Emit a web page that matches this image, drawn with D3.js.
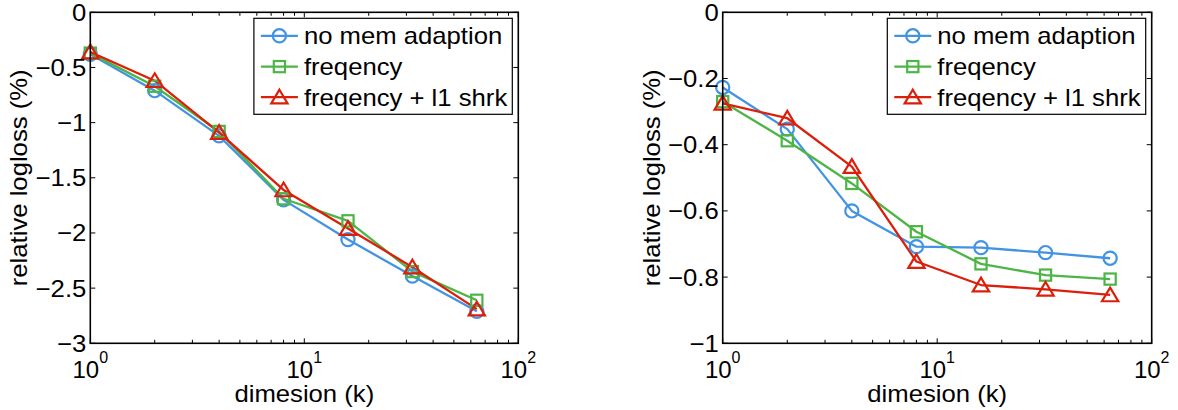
<!DOCTYPE html>
<html>
<head>
<meta charset="utf-8">
<script src="https://cdn.jsdelivr.net/npm/d3@7"></script>
<style>
  html, body { margin: 0; padding: 0; background: #fff; }
  svg { display: block; font-family: "Liberation Sans", Arial, Helvetica, sans-serif; }
</style>
</head>
<body>
<svg id="chart" width="1178" height="410"></svg>
<script>
// Dimensions k on the x axis
const dims = [1, 2, 4, 8, 16, 32, 64];

// Series names shown in the legends
const seriesNames = ["no mem adaption", "freqency", "freqency + l1 shrk"];

// Left panel: relative logloss (%)
const leftNoMem = [-0.38, -0.71, -1.12, -1.70, -2.06, -2.39, -2.71];
const leftFreq  = [-0.37, -0.67, -1.08, -1.69, -1.89, -2.35, -2.61];
const leftShrk  = [-0.36, -0.62, -1.09, -1.61, -1.96, -2.31, -2.69];

// Right panel: relative logloss (%)
const rightNoMem = [-0.227, -0.353, -0.600, -0.708, -0.711, -0.726, -0.743];
const rightFreq  = [-0.270, -0.388, -0.517, -0.663, -0.760, -0.794, -0.806];
const rightShrk  = [-0.275, -0.320, -0.466, -0.753, -0.824, -0.837, -0.854];

// Tick values
const xTicks = [1, 10, 100];
const leftYTicks = [0, -0.5, -1, -1.5, -2, -2.5, -3];
const rightYTicks = [0, -0.2, -0.4, -0.6, -0.8, -1];

const xLabel = "dimesion (k)";
const yLabel = "relative logloss (%)";

const colors = ["#4294e3", "#4cb546", "#dc1f0a"];
const markers = ["circle", "square", "triangle"];

const svg = d3.select("#chart");
const FONT = 24;
const STRETCH = 1.07;   // slightly wide lettering for labels

function fmtY(v) {
  if (v === 0) return "0";
  return "\u2212" + String(Math.abs(v));
}

// text placed at (x, y) with an optional rotation and horizontal stretch
function label(g, x, y, str, anchor, rot, stretch) {
  const t = g.append("text")
    .attr("transform", `translate(${x},${y}) rotate(${rot || 0}) scale(${stretch || 1},1)`)
    .attr("text-anchor", anchor).attr("font-size", FONT).attr("fill", "#000").text(str);
  return t;
}

function drawMarker(g, type, x, y, color) {
  if (type === "circle") {
    g.append("circle").attr("cx", x).attr("cy", y).attr("r", 6.6)
      .attr("fill", "none").attr("stroke", color).attr("stroke-width", 2.2);
  } else if (type === "square") {
    g.append("rect").attr("x", x - 5.6).attr("y", y - 5.6)
      .attr("width", 11.2).attr("height", 11.2)
      .attr("fill", "none").attr("stroke", color).attr("stroke-width", 2.2);
  } else {
    const h = 7.4;
    g.append("path")
      .attr("d", `M${x},${y - h}L${x + h * 1.1},${y + h * 0.85}L${x - h * 1.1},${y + h * 0.85}Z`)
      .attr("fill", "none").attr("stroke", color).attr("stroke-width", 2.2)
      .attr("stroke-linejoin", "miter");
  }
}

function panel(opts) {
  const { left, right, top, bottom, yDomain, yTicks, series } = opts;
  const g = svg.append("g");

  const x = d3.scaleLog().domain([1, 100]).range([left, right]);
  const y = d3.scaleLinear().domain(yDomain).range([bottom, top]);

  // data lines and markers
  const line = d3.line().x((d, i) => x(dims[i])).y(d => y(d));
  series.forEach((vals, si) => {
    g.append("path").datum(vals).attr("d", line)
      .attr("fill", "none").attr("stroke", colors[si]).attr("stroke-width", 2.3)
      .attr("stroke-linejoin", "round");
  });
  series.forEach((vals, si) => {
    vals.forEach((v, i) => drawMarker(g, markers[si], x(dims[i]), y(v), colors[si]));
  });

  // axes box
  g.append("rect").attr("x", left).attr("y", top)
    .attr("width", right - left).attr("height", bottom - top)
    .attr("fill", "none").attr("stroke", "#000").attr("stroke-width", 1.6);

  // x ticks (major + minor), bottom and top, pointing inward
  const allX = [];
  for (let d = 1; d < 100; d *= 10) for (let m = 1; m < 10; m++) allX.push(d * m);
  allX.push(100);
  allX.forEach(v => {
    const major = xTicks.includes(v);
    const len = major ? 5 : 3.5;
    const px = x(v);
    g.append("line").attr("x1", px).attr("x2", px).attr("y1", bottom).attr("y2", bottom - len)
      .attr("stroke", "#000").attr("stroke-width", 1);
    g.append("line").attr("x1", px).attr("x2", px).attr("y1", top).attr("y2", top + len)
      .attr("stroke", "#000").attr("stroke-width", 1);
  });

  // y ticks, left and right, pointing inward
  yTicks.forEach(v => {
    const py = y(v);
    g.append("line").attr("x1", left).attr("x2", left + 5).attr("y1", py).attr("y2", py)
      .attr("stroke", "#000").attr("stroke-width", 1);
    g.append("line").attr("x1", right).attr("x2", right - 5).attr("y1", py).attr("y2", py)
      .attr("stroke", "#000").attr("stroke-width", 1);
    label(g, left - 4, py + 8.5, fmtY(v), "end", 0, STRETCH);
  });

  // x tick labels as 10^n
  xTicks.forEach(v => {
    const t = g.append("text").attr("x", x(v)).attr("y", 378)
      .attr("text-anchor", "middle").attr("font-size", FONT).attr("fill", "#000");
    t.append("tspan").text("10");
    t.append("tspan").attr("dy", -15).attr("font-size", 16).text(String(Math.round(Math.log10(v))));
  });

  // axis labels
  label(g, (left + right) / 2, 402, xLabel, "middle", 0, STRETCH);
  label(g, left - 63, (top + bottom) / 2, yLabel, "middle", -90, STRETCH);

  // legend
  const lg = g.append("g");
  const box = lg.append("rect").attr("fill", "#fff").attr("stroke", "#000").attr("stroke-width", 1.2);
  const rowY = [17.5, 48.3, 78.8];
  let maxW = 0;
  const texts = seriesNames.map((name, i) => {
    const t = lg.append("text").attr("font-size", FONT).attr("fill", "#000").text(name);
    maxW = Math.max(maxW, t.node().getComputedTextLength() * STRETCH);
    return t;
  });
  const boxW = maxW + 50 + 5;
  const bx = right - 6 - boxW;
  const by = top + 6;
  box.attr("x", bx).attr("y", by).attr("width", boxW).attr("height", 96);
  texts.forEach((t, i) =>
    t.attr("transform", `translate(${bx + 50},${by + rowY[i] + 8.5}) scale(${STRETCH},1)`));
  seriesNames.forEach((name, i) => {
    const ly = by + rowY[i];
    lg.append("line").attr("x1", bx + 7).attr("x2", bx + 44).attr("y1", ly).attr("y2", ly)
      .attr("stroke", colors[i]).attr("stroke-width", 2.3);
    drawMarker(lg, markers[i], bx + 25.5, ly, colors[i]);
  });
}

panel({
  left: 90.3, right: 518.3, top: 12.3, bottom: 343.3,
  yDomain: [-3, 0], yTicks: leftYTicks,
  series: [leftNoMem, leftFreq, leftShrk]
});

panel({
  left: 722.7, right: 1151.7, top: 12.3, bottom: 343.3,
  yDomain: [-1, 0], yTicks: rightYTicks,
  series: [rightNoMem, rightFreq, rightShrk]
});
</script>
</body>
</html>
